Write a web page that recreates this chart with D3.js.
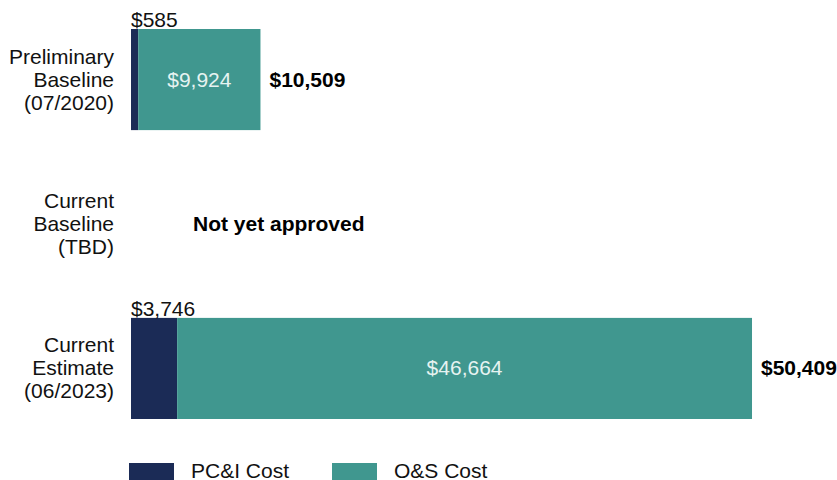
<!DOCTYPE html>
<html>
<head>
<meta charset="utf-8">
<script src="https://cdn.jsdelivr.net/npm/d3@7"></script>
<style>
  body { margin: 0; background: #fff; }
  text { font-family: "Liberation Sans", Arial, sans-serif; }
</style>
</head>
<body>
<div id="chart"></div>
<script>
const categories = [
  ["Preliminary", "Baseline", "(07/2020)"],
  ["Current", "Baseline", "(TBD)"],
  ["Current", "Estimate", "(06/2023)"]
];
const pciCost = [585, null, 3746];
const osCost = [9924, null, 46664];
const totals = [10509, null, 50409];
const seriesNames = ["PC&I Cost", "O&S Cost"];
const colors = ["#1b2b56", "#40978f"];

const width = 837, height = 480;
const fs = "21px";
const svg = d3.select("#chart").append("svg")
  .attr("width", width).attr("height", height);

const x = d3.scaleLinear().domain([0, 50409]).range([131, 752]);
const y = d3.scaleBand().domain(d3.range(categories.length))
  .range([29, 419]).paddingInner(0.3).paddingOuter(0);

const fmt = d3.format("$,");

// category labels
const cat = svg.selectAll(".cat").data(categories).enter().append("text")
  .attr("text-anchor", "end")
  .style("font-size", fs)
  .attr("fill", "#111");
cat.each(function (lines, i) {
  const c = y(i) + y.bandwidth() / 2;
  d3.select(this).selectAll("tspan").data(lines).enter().append("tspan")
    .attr("x", 114)
    .attr("y", (d, j) => c + (j - 1) * 23 + 7)
    .text(d => d);
});

const rows = d3.range(categories.length).filter(i => totals[i] != null);

// PC&I segments
svg.selectAll(".pci").data(rows).enter().append("rect")
  .attr("x", x(0))
  .attr("y", i => y(i))
  .attr("width", i => x(pciCost[i]) - x(0))
  .attr("height", y.bandwidth())
  .attr("fill", colors[0]);

// O&S segments
svg.selectAll(".os").data(rows).enter().append("rect")
  .attr("x", i => x(pciCost[i]))
  .attr("y", i => y(i))
  .attr("width", i => x(pciCost[i] + osCost[i]) - x(pciCost[i]))
  .attr("height", y.bandwidth())
  .attr("fill", colors[1]);

// PC&I value above bar
svg.selectAll(".pciLab").data(rows).enter().append("text")
  .attr("x", x(0))
  .attr("y", i => y(i) - 2)
  .style("font-size", fs)
  .attr("fill", "#111")
  .text(i => fmt(pciCost[i]));

// O&S value inside
svg.selectAll(".osLab").data(rows).enter().append("text")
  .attr("x", i => (x(pciCost[i]) + x(pciCost[i] + osCost[i])) / 2)
  .attr("y", i => y(i) + y.bandwidth() / 2 + 7)
  .attr("text-anchor", "middle")
  .style("font-size", fs)
  .attr("fill", "#e6f3f1")
  .text(i => fmt(osCost[i]));

// totals
svg.selectAll(".tot").data(rows).enter().append("text")
  .attr("x", i => x(totals[i]) + 9)
  .attr("y", i => y(i) + y.bandwidth() / 2 + 7)
  .style("font-size", fs)
  .style("font-weight", "bold")
  .attr("fill", "#000")
  .text(i => fmt(totals[i]));

// not approved row
svg.append("text")
  .attr("x", 193)
  .attr("y", y(1) + y.bandwidth() / 2 + 7)
  .style("font-size", fs)
  .style("font-weight", "bold")
  .attr("fill", "#000")
  .text("Not yet approved");

// legend
const legendX = [129, 332];
const leg = svg.selectAll(".leg").data(seriesNames).enter().append("g")
  .attr("transform", (d, i) => `translate(${legendX[i]},463)`);
leg.append("rect")
  .attr("width", 45).attr("height", 20)
  .attr("fill", (d, i) => colors[i]);
leg.append("text")
  .attr("x", 62).attr("y", 15)
  .style("font-size", fs)
  .attr("fill", "#111")
  .text(d => d);
</script>
</body>
</html>
